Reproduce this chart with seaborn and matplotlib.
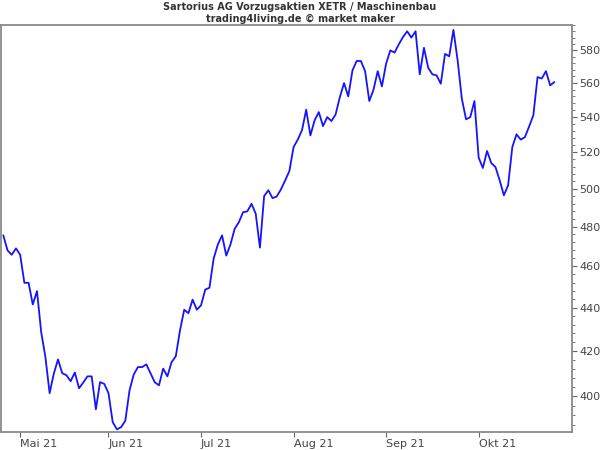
import numpy as np
import pandas as pd
import matplotlib
matplotlib.use("Agg")
import matplotlib.pyplot as plt
import matplotlib.ticker as mticker
import seaborn as sns

title_line1 = "Sartorius AG Vorzugsaktien XETR / Maschinenbau"
title_line2 = "trading4living.de © market maker"

start_date = "2021-04-27"
end_date = "2021-10-27"

prices = [
    475.5, 467.9, 465.7, 468.9, 465.7, 451.9, 451.9, 441.5, 447.9, 428.6,
    417.3, 401.4, 409.9, 416.2, 410.1, 409.2, 406.6, 410.4, 403.5, 406.0,
    408.7, 408.7, 394.5, 406.2, 405.4, 401.4, 389.1, 386.1, 387.0, 389.7,
    402.6, 409.5, 412.8, 412.8, 414.0, 410.0, 406.1, 404.8, 412.1, 408.7,
    415.0, 417.6, 429.4, 439.0, 437.4, 443.8, 439.0, 441.1, 448.6, 449.5,
    463.8, 470.9, 475.5, 465.3, 470.9, 478.9, 482.3, 487.5, 487.9, 491.9,
    486.7, 469.3, 496.0, 499.1, 494.9, 495.8, 499.6, 504.4, 509.5, 522.8,
    527.0, 532.3, 544.2, 529.4, 538.0, 542.8, 534.7, 539.9, 537.6, 541.5,
    551.6, 560.0, 552.0, 567.7, 573.4, 573.4, 567.2, 549.3, 556.0, 567.2,
    558.0, 571.8, 580.0, 578.6, 583.7, 588.3, 592.0, 588.0, 592.0, 565.3,
    581.6, 569.3, 565.3, 564.6, 559.6, 577.8, 576.3, 592.9, 573.8, 550.7,
    538.6, 539.9, 549.3, 516.9, 511.2, 520.6, 513.9, 511.7, 504.4, 496.4,
    501.7, 522.8, 530.0, 527.0, 528.4, 534.5, 540.9, 563.6, 562.7, 567.2,
    558.6, 560.6,
]

y_ticks = [400, 420, 440, 460, 480, 500, 520, 540, 560, 580]
month_names = ["Jan", "Feb", "Mrz", "Apr", "Mai", "Jun", "Jul", "Aug",
               "Sep", "Okt", "Nov", "Dez"]

dates = pd.bdate_range(start_date, end_date)
df = pd.DataFrame({"idx": np.arange(len(prices)), "date": dates[:len(prices)],
                   "price": prices})

sns.set_theme(style="white")
plt.rcParams["font.family"] = ["DejaVu Sans"]

fig = plt.figure(figsize=(6, 4.5), dpi=100)
ax = fig.add_axes([0.0017, 0.04, 0.9517, 0.9044])

sns.lineplot(data=df, x="idx", y="price", ax=ax, color="#1414ff",
             linewidth=1.3)

ax.set_yscale("log")
ax.set_ylim(385, 596)
ax.set_xlim(-0.55, 135.2)

ax.yaxis.set_major_locator(mticker.FixedLocator(y_ticks))
ax.yaxis.set_major_formatter(mticker.FixedFormatter([str(v) for v in y_ticks]))
ax.yaxis.set_minor_locator(mticker.FixedLocator(
    [v for v in range(384, 600, 4) if v not in y_ticks]))
ax.yaxis.set_minor_formatter(mticker.NullFormatter())
ax.yaxis.tick_right()

# month ticks at first trading day of each month
month_first = df.groupby([df["date"].dt.year, df["date"].dt.month])["idx"].min()
mt_pos, mt_lab = [], []
for (yr, mo), i in month_first.items():
    if df.loc[i, "date"].day <= 7 and i > 0:
        mt_pos.append(i)
        mt_lab.append(f"{month_names[mo - 1]} {str(yr)[2:]}")
ax.set_xticks(mt_pos)
ax.set_xticklabels(mt_lab, ha="left")
ax.xaxis.set_minor_locator(mticker.NullLocator())

ax.set_xlabel("")
ax.set_ylabel("")

for s in ax.spines.values():
    s.set_visible(True)
    s.set_color("#8a8a8a")
    s.set_linewidth(1.3)

ax.tick_params(axis="both", which="major", direction="out", length=3.5,
               width=0.8, color="#666666", labelsize=8, labelcolor="#444444",
               pad=1.5)
ax.tick_params(axis="y", which="minor", direction="out", length=2,
               width=0.6, color="#666666", right=True, left=False)
ax.tick_params(axis="x", which="major", bottom=True, top=False)
ax.tick_params(axis="y", which="major", right=True, left=False)
for lbl in ax.get_xticklabels():
    lbl.set_horizontalalignment("left")

fig.text(0.5, 0.995, title_line1, ha="center", va="top", fontsize=7,
         fontweight="bold", color="#333333")
fig.text(0.5, 0.970, title_line2, ha="center", va="top", fontsize=7,
         fontweight="bold", color="#333333")

fig.savefig("out.png", dpi=100)
